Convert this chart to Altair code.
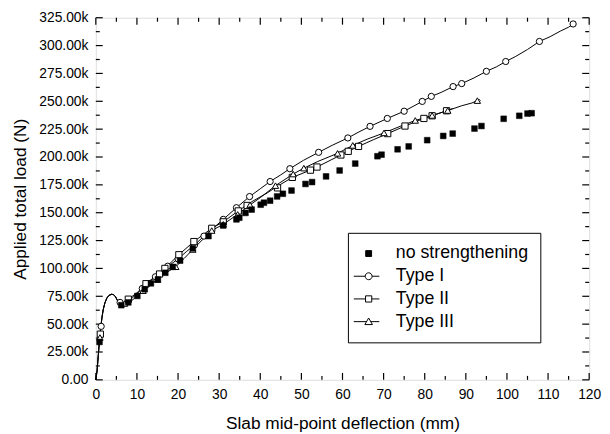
import altair as alt
import pandas as pd

# ---------------- data (load in kN, deflection in mm) ----------------
SERIES = ["no strengthening", "Type I", "Type II", "Type III"]

# common initial branch shared by all strengthened slabs
START_X = [0, 0.3, 0.6, 0.9, 1.2, 1.5, 1.8, 2.2, 2.7, 3.2, 3.8, 4.3, 4.8, 5.3, 5.8, 6.4]
START_Y = [0, 8, 22, 36, 47, 56, 63, 69, 73.5, 75.8, 76.8, 76.5, 74.5, 71, 69, 68]

# no strengthening (markers only)
NS_X = [0.9, 6.2, 7.9, 10.1, 11.9, 13.4, 15.1, 16.9, 18.7, 20.5, 23.6, 27.4, 31.0, 34.2, 34.9,
        36.4, 37.9, 40.1, 40.9, 42.4, 44.1, 45.5, 47.6, 51.0, 52.6, 56.0, 59.3, 63.1, 68.5, 69.5,
        73.4, 76.1, 80.6, 84.5, 86.8, 92.1, 93.8, 99.2, 103.0, 105.0, 106.0]
NS_Y = [34, 67, 69.5, 75.3, 81.3, 86.6, 90.1, 96.1, 101.4, 107, 118, 129, 138.5, 144, 145.5,
        149.8, 152.8, 157.2, 159, 160.8, 164.6, 167, 169.9, 175.8, 177.5, 182.6, 187.9, 194.1, 200.7, 202.1,
        206.9, 209.5, 215.1, 218.9, 221, 225.5, 227.8, 234.3, 237, 239, 239.3]

# Type I
T1_X = [7.5, 9, 10.5, 12, 14, 16, 18, 20, 22, 24, 26.3, 28.5, 31, 34.2, 37.4, 40, 42.4, 45, 47.2,
        50.5, 54.2, 57.5, 61.3, 64, 66.7, 70.9, 75, 79.4, 81.6, 84, 86.9, 89, 92, 95, 97.5, 99.7,
        102, 105, 107.9, 110.5, 113, 115, 116.1, 116.6]
T1_Y = [70, 74, 79, 84.5, 91, 97.5, 103, 108.5, 115, 121, 129, 136, 144, 154.5, 164.5, 171.5, 178, 184, 189.5,
        197, 204.2, 210.5, 217.1, 222.5, 227.5, 234.6, 241.1, 249.9, 254.4, 258, 263.2, 265.9, 271, 276.9, 281, 285.7,
        290, 296.5, 303.7, 308, 313, 316.5, 319.4, 321.5]
T1_MX = [1.3, 5.9, 8.0, 11.3, 14.5, 17.5, 20, 24, 26.3, 31, 34.2, 37.4, 42.4, 47.2, 54.2, 61.3, 66.7,
         70.9, 75, 79.4, 81.6, 86.9, 89, 95, 99.7, 107.9, 116.1]
T1_MY = [48, 69.5, 71.5, 82, 92.5, 102, 108.5, 121, 129, 144, 154.5, 164.5, 178, 189.5, 204.2, 217.1, 227.5,
         234.6, 241.1, 249.9, 254.4, 263.2, 265.9, 276.9, 285.7, 303.7, 319.4]

# Type II
T2_X = [7.9, 10, 12.2, 14.5, 16.8, 20.2, 23.85, 28.2, 31, 34.65, 38, 41.8, 43.4, 47.8, 52.2, 53.8, 57,
        59.6, 61.4, 63.9, 67.5, 71, 75.2, 79.8, 81.8, 85.3, 86.8]
T2_Y = [72.4, 78, 86.3, 93, 100, 112.3, 124.1, 136, 141.8, 151.6, 160, 168, 172, 181.7, 188.2, 191, 197,
        201.8, 205.1, 209.5, 215.5, 221, 227.8, 234.6, 237, 241.5, 243.5]
T2_MX = [1.1, 7.9, 12.2, 15.5, 16.8, 20.2, 23.85, 28.2, 31, 34.65, 36.8, 44.2, 47.8, 52.2, 53.8, 59.6,
         61.4, 63.9, 71, 75.2, 79.8, 81.8, 85.3]
T2_MY = [41, 72.4, 86.3, 95, 100, 112.3, 124.1, 136, 141.8, 151.6, 156.5, 172.3, 181.7, 188.2, 191, 201.8,
         205.1, 209.5, 221, 227.8, 234.6, 237, 241.5]

# Type III
T3_X = [7, 9, 11, 13, 15, 17.5, 19.45, 21.5, 23.6, 26, 28.2, 31, 34.5, 37.5, 40, 43.7, 48, 50.6, 54,
        58.8, 62.5, 66, 70.1, 74, 77.7, 81.8, 85.6, 89, 91.5, 93.3, 93.6]
T3_Y = [68.5, 72, 78, 84, 91, 97, 101.5, 109, 117, 126, 134, 139.6, 148.5, 157, 163.5, 174.3, 184.7, 190, 196,
        203.3, 210.4, 216, 221.6, 227.5, 232.8, 237.3, 241.7, 246, 248.5, 251.5, 250.5]
T3_MX = [1.0, 7, 11.5, 15, 19.45, 23.6, 28.2, 31, 34.5, 37.5, 43.7, 48, 50.6, 58.8, 62.5, 70.1, 77.7,
         81.8, 85.6, 92.8]
T3_MY = [38, 68.5, 80, 90, 101.5, 117, 134, 139.6, 148.5, 157, 174.3, 184.7, 190, 203.3, 210.4, 221.6, 232.8,
         237.3, 241.7, 250.6]

X_DOMAIN = [0, 120]
Y_DOMAIN = [0, 325]
X_MAJOR = list(range(0, 121, 10))
X_MINOR = list(range(5, 120, 10))
Y_MAJOR = [25 * i for i in range(14)]
Y_MINOR = [12.5 + 25 * i for i in range(13)]

# ---------------- tables ----------------
rows = []
for name, xs_, ys_ in [("Type I", T1_X, T1_Y), ("Type II", T2_X, T2_Y), ("Type III", T3_X, T3_Y)]:
    for i, (a, b) in enumerate(zip(START_X + xs_, START_Y + ys_)):
        rows.append({"series": name, "x": a, "y": b, "i": i})
lines_df = pd.DataFrame(rows)
t1_df = pd.DataFrame({"x": T1_MX, "y": T1_MY})
t2_df = pd.DataFrame({"x": T2_MX, "y": T2_MY})
t3_df = pd.DataFrame({"x": T3_MX, "y": T3_MY})
ns_df = pd.DataFrame({"x": NS_X, "y": NS_Y})
leg_df = pd.DataFrame({"series": SERIES, "x": [0] * 4, "y": [0] * 4})

W, H = 500, 367
FONT = "Liberation Sans"
xscale = alt.Scale(domain=X_DOMAIN, nice=False, zero=False)
yscale = alt.Scale(domain=Y_DOMAIN, nice=False, zero=False)
MAJ_SIZE, MIN_SIZE = 196, 64   # tick lengths 7 px / 4 px as symbol sizes

x_label_axis = alt.Axis(orient="bottom", values=X_MAJOR, ticks=False, domain=False, grid=False,
                        labelPadding=8, labelFontSize=14, labelColor="black", labelFont=FONT,
                        labelFlush=False, labelOverlap=False,
                        title="Slab mid-point deflection (mm)", titleFont=FONT, titleFontSize=17.5,
                        titleFontWeight="normal", titleColor="black", titlePadding=13)
y_label_axis = alt.Axis(orient="left", values=Y_MAJOR, ticks=False, domain=False, grid=False,
                        labelPadding=8, labelFontSize=14, labelColor="black", labelFont=FONT,
                        labelOverlap=False,
                        labelExpr="datum.value === 0 ? '0.00' : format(datum.value, '.2f') + 'k'",
                        title="Applied total load (N)", titleFont=FONT, titleFontSize=17.5,
                        titleFontWeight="normal", titleColor="black", titlePadding=9)

lines = alt.Chart(lines_df).mark_line(color="black", strokeWidth=1).encode(
    x=alt.X("x:Q", scale=xscale, axis=x_label_axis),
    y=alt.Y("y:Q", scale=yscale, axis=y_label_axis),
    detail="series:N",
    order="i:Q",
)


# inward ticks drawn as line-shaped symbols sitting on the frame edges (through the scales)
def edge_ticks(values, edge, size):
    if edge in ("bottom", "top"):
        df = pd.DataFrame({"x": values, "y": [Y_DOMAIN[0] if edge == "bottom" else Y_DOMAIN[1]] * len(values)})
        path = "M0,0V-1" if edge == "bottom" else "M0,0V1"
    else:
        df = pd.DataFrame({"y": values, "x": [X_DOMAIN[0] if edge == "left" else X_DOMAIN[1]] * len(values)})
        path = "M0,0H1" if edge == "left" else "M0,0H-1"
    return alt.Chart(df).mark_point(shape=path, filled=False, stroke="black", strokeWidth=1.2,
                                    size=size, opacity=1).encode(
        x=alt.X("x:Q", scale=xscale, axis=None),
        y=alt.Y("y:Q", scale=yscale, axis=None),
    )


tick_layers = [edge_ticks(v, e, s) for e in ("bottom", "top")
               for v, s in ((X_MAJOR, MAJ_SIZE), (X_MINOR, MIN_SIZE))] + \
              [edge_ticks(v, e, s) for e in ("left", "right")
               for v, s in ((Y_MAJOR, MAJ_SIZE), (Y_MINOR, MIN_SIZE))]


def markers(df, shape, fill, size, sw=1):
    return alt.Chart(df).mark_point(shape=shape, filled=True, fill=fill, stroke="black",
                                    strokeWidth=sw, size=size, opacity=1).encode(
        x=alt.X("x:Q", scale=xscale, axis=None),
        y=alt.Y("y:Q", scale=yscale, axis=None),
    )


t1 = markers(t1_df, "circle", "white", 40)
t2 = markers(t2_df, "square", "white", 40)
t3 = markers(t3_df, "triangle-up", "white", 42)
ns = markers(ns_df, "square", "black", 34, 0.5)

PATHS = [
    "M-0.85,-0.85H0.85V0.85H-0.85Z",
    "M-4.3,0H-1M1,0H3.1M1,0A1,1 0 1,1 -1,0A1,1 0 1,1 1,0Z",
    "M-4.3,0H-0.9M0.9,0H3.1M-0.9,-0.9H0.9V0.9H-0.9Z",
    "M-4.3,0H-0.6M0.6,0H3.1M0,-1.05L1.1,0.85H-1.1Z",
]
legend_def = alt.Legend(title=None, orient="none", legendX=255.5, legendY=218,
                        labelFont=FONT, labelFontSize=18, labelColor="black",
                        symbolSize=49, symbolStrokeColor="black", symbolStrokeWidth=1,
                        symbolOffset=0, labelOffset=18.5, rowPadding=5,
                        padding=12, strokeColor="black", fillColor="white", cornerRadius=0)
leg = alt.Chart(leg_df).mark_point(filled=True, stroke="black", strokeWidth=1, size=49, opacity=1).encode(
    x=alt.X("x:Q", scale=xscale, axis=None),
    y=alt.Y("y:Q", scale=yscale, axis=None),
    shape=alt.Shape("series:N", scale=alt.Scale(domain=SERIES, range=PATHS), legend=legend_def),
    fill=alt.Fill("series:N", scale=alt.Scale(domain=SERIES, range=["black", "white", "white", "white"]),
                  legend=legend_def),
    stroke=alt.Stroke("series:N", scale=alt.Scale(domain=SERIES, range=["black", "black", "black", "black"]),
                      legend=legend_def),
).transform_filter("false")

chart = alt.layer(*tick_layers, lines, t1, t2, t3, ns, leg).resolve_axis(
    x="independent", y="independent"
).properties(
    width=W, height=H,
    autosize=alt.AutoSizeParams(type="none"),
    padding={"left": 89, "top": 7, "right": 13, "bottom": 50},
).configure_view(stroke="black", strokeWidth=1.5).configure(font=FONT)

chart.save("out.html", embed_options={"renderer": "svg", "actions": False})
